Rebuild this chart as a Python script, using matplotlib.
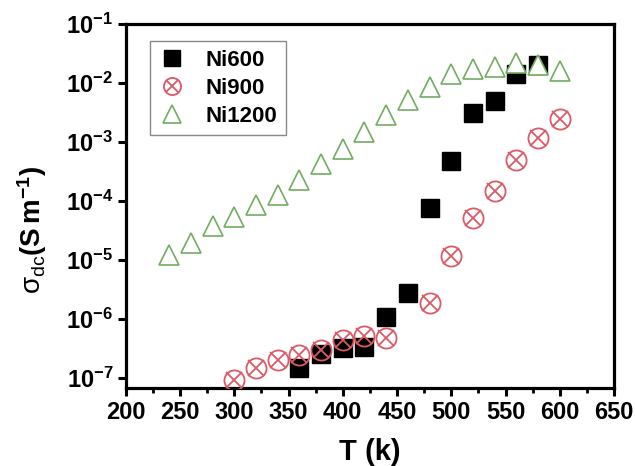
import matplotlib
matplotlib.use('Agg')
import matplotlib.pyplot as plt
from matplotlib.ticker import MultipleLocator, FixedLocator, NullLocator, FixedFormatter

plt.rcParams['font.family'] = ['Liberation Sans', 'DejaVu Sans']
plt.rcParams['mathtext.fontset'] = 'custom'
plt.rcParams['mathtext.rm'] = 'Liberation Sans:bold'
plt.rcParams['mathtext.bf'] = 'Liberation Sans:bold'
plt.rcParams['mathtext.it'] = 'Liberation Sans:bold:italic'
plt.rcParams['mathtext.sf'] = 'Liberation Sans'

# DC conductivity (S/m) versus temperature (K)
T_ni600 = [360, 380, 400, 420, 440, 460, 480, 500, 520, 540, 560, 580]
s_ni600 = [1.46e-7, 2.6e-7, 3.2e-7, 3.4e-7, 1.07e-6, 2.8e-6, 7.8e-5, 4.8e-4,
           3.1e-3, 4.9e-3, 1.45e-2, 2.0e-2]

T_ni900 = [300, 320, 340, 360, 380, 400, 420, 440, 480, 500, 520, 540, 560, 580, 600]
s_ni900 = [9.3e-8, 1.46e-7, 2.0e-7, 2.5e-7, 3.0e-7, 4.5e-7, 5.1e-7, 4.8e-7,
           1.9e-6, 1.2e-5, 5.2e-5, 1.46e-4, 5.0e-4, 1.16e-3, 2.5e-3]

T_ni1200 = [240, 260, 280, 300, 320, 340, 360, 380, 400, 420, 440, 460, 480,
            500, 520, 540, 560, 580, 600]
s_ni1200 = [1.22e-5, 1.92e-5, 3.8e-5, 5.3e-5, 8.5e-5, 1.28e-4, 2.25e-4, 4.2e-4,
            7.6e-4, 1.5e-3, 2.9e-3, 5.2e-3, 8.7e-3, 1.44e-2, 1.77e-2, 1.9e-2,
            2.2e-2, 2.0e-2, 1.64e-2]

labels = ['Ni600', 'Ni900', 'Ni1200']
x_ticks = [200, 250, 300, 350, 400, 450, 500, 550, 600, 650]
y_ticks = [1e-7, 1e-6, 1e-5, 1e-4, 1e-3, 1e-2, 1e-1]
y_ticklabels = [r'$\mathrm{10^{-%d}}$' % k for k in range(7, 0, -1)]

red = '#dc5a66'
green = '#72ad62'

fig = plt.figure(figsize=(6.35, 4.66), dpi=100)
ax = fig.add_axes([0.198, 0.167, 0.769, 0.781])

h600, = ax.plot(T_ni600, s_ni600, ls='none', marker='s', ms=13,
                mfc='black', mec='black', zorder=3)
h900o, = ax.plot(T_ni900, s_ni900, ls='none', marker='o', ms=14.5,
                 mfc='none', mec=red, mew=1.3, zorder=4)
h900x, = ax.plot(T_ni900, s_ni900, ls='none', marker='x', ms=11,
                 mec=red, mew=1.3, zorder=4)
h1200, = ax.plot(T_ni1200, s_ni1200, ls='none', marker='^', ms=15,
                 mfc='white', mec=green, mew=1.2, zorder=5)

ax.set_yscale('log')
ax.set_xlim(200, 650)
ax.set_ylim(10 ** -7.17, 1e-1)

ax.xaxis.set_major_locator(FixedLocator(x_ticks))
ax.xaxis.set_minor_locator(MultipleLocator(25))
ax.yaxis.set_major_locator(FixedLocator(y_ticks))
ax.yaxis.set_major_formatter(FixedFormatter(y_ticklabels))
ax.yaxis.set_minor_locator(NullLocator())

for sp in ax.spines.values():
    sp.set_linewidth(2.3)

ax.tick_params(axis='both', which='major', direction='out', length=6, width=2.2,
               labelsize=17, pad=3)
ax.tick_params(axis='x', which='minor', direction='out', length=3.5, width=2.0)
ax.tick_params(top=False, right=False, which='both')
for lab in ax.get_xticklabels():
    lab.set_fontweight('bold')

ax.set_xlabel('T (k)', fontsize=21, fontweight='bold', labelpad=10)
ax.set_ylabel(r'$\mathsf{\sigma_{dc}}\mathrm{(S\,m^{-1})}$', fontsize=20)
ax.yaxis.set_label_coords(-0.158, 0.435)

leg = ax.legend([h600, (h900o, h900x), h1200], labels, loc='upper left',
                bbox_to_anchor=(0.049, 0.953), borderaxespad=0, fancybox=False,
                framealpha=1, edgecolor='#888888',
                prop={'weight': 'bold', 'size': 16}, handlelength=1.2,
                handletextpad=0.9, labelspacing=0.3, borderpad=0.4,
                markerscale=0.85)
leg.get_frame().set_linewidth(1.0)

fig.savefig('out.png', dpi=100)
